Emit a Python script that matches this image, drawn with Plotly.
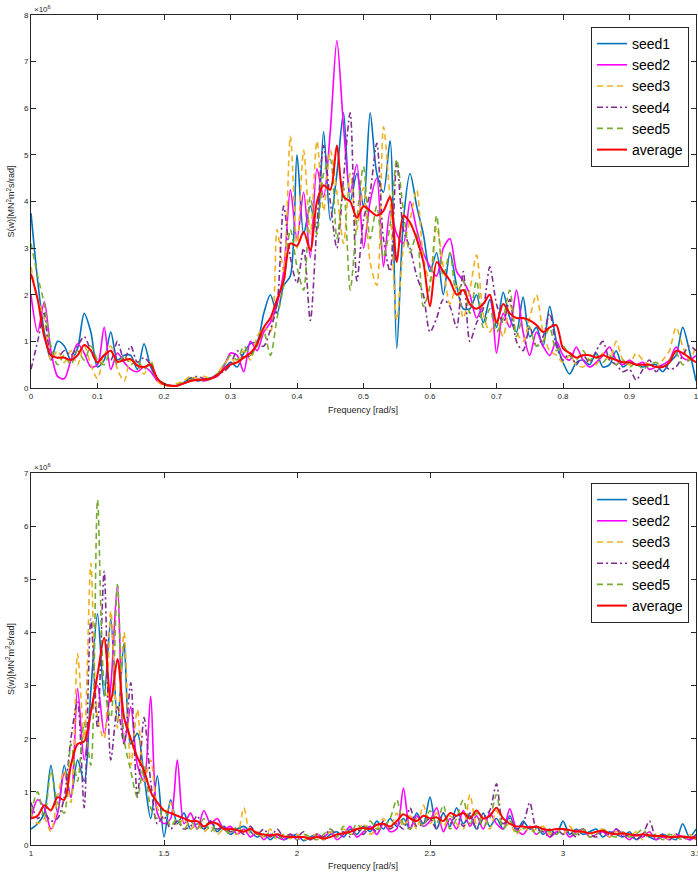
import plotly.graph_objects as go

# ---------------- Top panel (0 - 1 rad/s), values in 1e6 units ----------------
freq_top = [round(i * 0.01, 2) for i in range(101)]

top_seed1 = [3.75, 2.3, 1.2, 0.6, 1.0, 0.9, 0.6, 0.85, 1.6, 1.2,
             0.45, 0.6, 1.2, 0.6, 0.7, 0.7, 0.4, 0.95, 0.45, 0.2,
             0.08, 0.05, 0.06, 0.12, 0.22, 0.15, 0.18, 0.22, 0.25, 0.4,
             0.55, 0.45, 0.75, 0.95, 1.0, 1.6, 2.0, 1.6, 2.2, 2.4,
             5.0, 3.3, 3.9, 3.4, 5.5, 3.6, 4.6, 5.9, 4.0, 4.6,
             3.9, 5.9, 4.6, 4.2, 5.3, 0.85, 3.6, 4.6, 3.9, 3.3,
             2.5, 2.9, 2.0, 2.9, 2.2, 1.7, 1.7, 2.0, 1.4, 1.9,
             1.3, 2.05, 1.5, 1.2, 1.95, 1.1, 1.3, 0.9, 1.75, 1.0,
             0.55, 0.3, 0.55, 0.6, 0.5, 0.75, 0.45, 0.5, 0.8, 0.45,
             0.55, 0.5, 0.45, 0.5, 0.5, 0.35, 0.55, 0.7, 1.3, 0.8, 0.15]

top_seed2 = [2.0, 1.2, 1.85, 0.8, 0.25, 0.2, 0.6, 0.95, 0.75, 0.45,
             0.5, 1.3, 0.4, 0.75, 0.55, 0.4, 0.35, 0.45, 0.35, 0.15,
             0.08, 0.05, 0.05, 0.1, 0.15, 0.2, 0.15, 0.2, 0.25, 0.45,
             0.75, 0.7, 0.35, 1.0, 0.8, 1.2, 1.4, 1.8, 2.5, 4.25,
             3.2, 4.2, 2.8, 4.7, 4.1, 5.5, 7.45, 5.6, 4.2, 4.8,
             3.0, 4.0, 4.5, 2.6, 3.8, 3.3, 3.1, 4.0, 3.4, 2.9,
             2.6, 2.4, 3.0, 3.2, 2.5, 2.3, 2.0, 1.5, 1.8, 2.0,
             0.75, 1.6, 1.3, 2.1, 1.2, 0.7, 1.2, 0.9, 0.7, 1.0,
             0.7, 0.6, 0.88, 0.6, 0.45, 0.55, 0.7, 0.88, 0.6, 0.5,
             0.6, 0.5, 0.55, 0.4, 0.45, 0.5, 0.6, 0.88, 0.65, 0.6, 0.7]

top_seed3 = [2.6, 1.9, 1.5, 0.6, 0.8, 0.55, 0.8, 0.5, 0.9, 0.5,
             0.2, 0.7, 0.9, 0.4, 0.15, 0.6, 0.5, 0.3, 0.6, 0.15,
             0.05, 0.05, 0.1, 0.15, 0.25, 0.2, 0.25, 0.2, 0.3, 0.5,
             0.65, 0.5, 0.8, 0.6, 1.1, 1.3, 1.2, 3.4, 2.5, 5.4,
             3.0, 5.1, 3.3, 5.3, 3.8, 5.1, 4.2, 3.1, 4.6, 3.4,
             4.3, 2.7, 2.2, 5.6, 4.0, 1.45, 3.0, 3.6, 4.25, 2.8,
             2.3, 3.45, 2.6, 1.8, 2.2, 1.5, 2.1, 2.85, 1.6, 1.2,
             1.5, 1.1, 1.8, 1.2, 1.0, 1.5, 2.0, 1.2, 0.8, 0.7,
             0.55, 0.7, 0.5, 0.45, 0.6, 0.5, 0.75, 0.6, 1.0, 0.6,
             0.5, 0.75, 0.6, 0.5, 0.45, 0.6, 0.8, 1.3, 0.9, 0.6, 0.9]

top_seed4 = [0.4, 1.0, 1.6, 0.7, 0.65, 0.8, 0.7, 0.9, 1.1, 0.8,
             0.55, 0.7, 0.6, 1.0, 0.6, 0.9, 0.55, 0.65, 0.5, 0.2,
             0.1, 0.05, 0.05, 0.1, 0.2, 0.25, 0.2, 0.2, 0.3, 0.35,
             0.5, 0.8, 0.65, 0.7, 0.9, 0.9, 1.25, 1.8, 3.9, 2.8,
             2.25, 3.0, 1.45, 3.5, 5.2, 4.0, 3.0, 4.5, 5.9, 2.3,
             3.6, 4.2, 5.25, 3.2, 2.5, 4.85, 3.4, 3.0, 2.4, 2.0,
             1.2, 1.5, 1.9, 1.75, 1.3, 2.5, 1.0, 1.4, 1.7, 2.6,
             1.8, 1.4, 1.9, 1.0, 0.8, 1.3, 0.9, 1.1, 1.6, 0.9,
             0.6, 0.75, 0.5, 0.7, 0.55, 0.8, 1.0, 0.6, 0.5, 0.35,
             0.4, 0.17, 0.4, 0.6, 0.35, 0.5, 0.4, 0.45, 0.7, 0.9, 0.8]

top_seed5 = [3.1, 2.4, 1.8, 0.9, 0.5, 0.7, 0.5, 0.8, 0.6, 0.9,
             0.6, 0.5, 0.8, 0.5, 0.7, 0.5, 0.6, 0.4, 0.55, 0.2,
             0.1, 0.05, 0.08, 0.12, 0.18, 0.2, 0.15, 0.2, 0.3, 0.5,
             0.7, 0.6, 0.9, 0.7, 0.9, 1.2, 0.7, 1.5, 2.2, 3.4,
             2.6, 2.1, 4.1, 3.3, 4.6, 4.9, 3.2, 4.3, 2.1, 3.6,
             4.75, 3.2, 3.9, 2.8, 3.5, 4.9, 3.8, 2.9, 3.3, 1.75,
             2.2, 3.7, 2.4, 2.9, 2.0, 2.3, 1.6, 2.3, 1.3, 1.7,
             1.2, 1.5, 2.1, 1.1, 1.5, 1.3, 0.9, 1.0, 1.3, 0.8,
             0.9, 0.7, 0.6, 0.8, 0.6, 0.7, 0.55, 0.7, 0.5, 0.6,
             0.45, 0.55, 0.4, 0.5, 0.55, 0.45, 0.6, 0.75, 0.5, 0.6, 0.7]

top_average = [2.45, 1.9, 1.1, 0.7, 0.65, 0.65, 0.6, 0.7, 0.92, 0.8,
               0.55, 0.7, 0.8, 0.56, 0.6, 0.62, 0.48, 0.45, 0.5, 0.2,
               0.08, 0.05, 0.05, 0.1, 0.15, 0.17, 0.18, 0.2, 0.27, 0.4,
               0.5, 0.55, 0.65, 0.75, 0.95, 1.3, 1.5, 1.9, 2.3, 3.1,
               3.05, 3.35, 2.95, 4.0, 4.35, 4.25, 5.2, 4.1, 4.0, 3.65,
               3.9, 3.8, 3.7, 3.8, 4.1, 2.7, 3.7, 3.55, 3.2, 2.7,
               1.75, 2.7, 2.5, 2.3, 2.0, 2.1, 1.8, 1.7, 1.8, 2.0,
               1.4, 1.8, 1.6, 1.5, 1.5, 1.45, 1.35, 1.2, 1.3, 1.35,
               0.85, 0.75, 0.65, 0.7, 0.7, 0.65, 0.7, 0.65, 0.6, 0.55,
               0.55, 0.5, 0.5, 0.5, 0.45, 0.45, 0.55, 0.8, 0.75, 0.65, 0.55]

# ---------------- Bottom panel (1 - 3.5 rad/s), values in 1e6 units ----------------
freq_bot = [round(1 + i * 0.025, 3) for i in range(101)]

bot_seed1 = [0.3, 0.4, 0.6, 1.5, 0.6, 1.5, 0.9, 1.6, 1.2, 2.9,
             4.35, 2.8, 4.25, 2.3, 3.8, 1.9, 2.1, 1.3, 0.5, 1.3,
             0.15, 0.85, 0.4, 0.6, 0.3, 0.4, 0.3, 0.45, 0.25, 0.35,
             0.2, 0.3, 0.35, 0.25, 0.15, 0.2, 0.1, 0.2, 0.1, 0.15,
             0.2, 0.08, 0.15, 0.2, 0.1, 0.2, 0.25, 0.15, 0.3, 0.2,
             0.35, 0.25, 0.45, 0.3, 0.5, 0.35, 0.5, 0.3, 0.6, 0.4,
             0.9, 0.3, 0.6, 0.35, 0.7, 0.4, 0.55, 0.3, 0.6, 0.35,
             0.5, 0.3, 0.55, 0.25, 0.45, 0.3, 0.35, 0.2, 0.3, 0.2,
             0.45, 0.2, 0.3, 0.2, 0.25, 0.3, 0.15, 0.25, 0.2, 0.15,
             0.25, 0.1, 0.2, 0.15, 0.1, 0.2, 0.15, 0.1, 0.4, 0.15, 0.3]

bot_seed2 = [0.5, 0.85, 0.7, 0.3, 0.6, 1.35, 0.9, 2.95, 1.6, 2.5,
             3.0, 2.1, 3.0, 4.9, 1.9, 2.6, 1.5, 1.2, 2.8, 0.6,
             0.4, 0.5, 1.6, 0.4, 0.6, 0.3, 0.65, 0.4, 0.5, 0.3,
             0.35, 0.2, 0.3, 0.15, 0.25, 0.1, 0.2, 0.15, 0.1, 0.2,
             0.1, 0.15, 0.1, 0.2, 0.15, 0.25, 0.1, 0.2, 0.35, 0.15,
             0.25, 0.35, 0.2, 0.4, 0.25, 0.3, 1.07, 0.3, 0.55, 0.35,
             0.45, 0.7, 0.25, 0.5, 0.3, 0.65, 0.35, 0.55, 0.3, 0.6,
             0.4, 0.3, 0.68, 0.3, 0.2, 0.35, 0.2, 0.3, 0.15, 0.25,
             0.3, 0.15, 0.25, 0.3, 0.15, 0.2, 0.25, 0.15, 0.3, 0.2,
             0.1, 0.2, 0.15, 0.25, 0.1, 0.15, 0.1, 0.2, 0.15, 0.1, 0.15]

bot_seed3 = [0.6, 0.4, 0.5, 0.25, 0.9, 1.4, 0.8, 3.6, 2.0, 5.3,
             2.4, 2.0, 4.4, 2.2, 4.0, 1.5, 2.55, 1.2, 1.6, 0.7,
             0.5, 0.8, 0.35, 0.5, 0.3, 0.4, 0.25, 0.35, 0.2, 0.3,
             0.25, 0.2, 0.7, 0.2, 0.25, 0.15, 0.3, 0.1, 0.2, 0.12,
             0.2, 0.1, 0.15, 0.2, 0.1, 0.25, 0.15, 0.3, 0.2, 0.25,
             0.4, 0.2, 0.3, 0.5, 0.3, 0.6, 0.35, 0.55, 0.3, 0.75,
             0.4, 0.6, 0.35, 0.55, 0.4, 0.3, 0.95, 0.4, 0.55, 0.3,
             0.65, 0.35, 0.4, 0.2, 0.35, 0.25, 0.3, 0.35, 0.2, 0.3,
             0.2, 0.35, 0.2, 0.3, 0.2, 0.25, 0.3, 0.15, 0.25, 0.2,
             0.15, 0.25, 0.1, 0.2, 0.15, 0.2, 0.1, 0.2, 0.15, 0.2, 0.1]

bot_seed4 = [0.8, 0.5, 0.6, 0.45, 0.5, 0.9, 2.0, 2.7, 0.7, 4.25,
             2.2, 5.15, 1.6, 2.6, 1.9, 3.05, 0.9, 2.4, 1.2, 0.4,
             0.55, 0.3, 0.45, 0.3, 0.35, 0.55, 0.3, 0.45, 0.3, 0.35,
             0.25, 0.3, 0.2, 0.35, 0.2, 0.3, 0.15, 0.3, 0.15, 0.2,
             0.15, 0.25, 0.1, 0.2, 0.15, 0.3, 0.2, 0.25, 0.15, 0.3,
             0.2, 0.35, 0.25, 0.45, 0.3, 0.4, 0.3, 0.7, 0.35, 0.4,
             0.5, 0.3, 0.6, 0.4, 0.55, 0.35, 0.6, 0.3, 0.5, 0.65,
             1.15, 0.4, 0.5, 0.3, 0.4, 0.8, 0.3, 0.25, 0.15, 0.3,
             0.2, 0.25, 0.15, 0.3, 0.2, 0.15, 0.25, 0.2, 0.3, 0.15,
             0.2, 0.1, 0.2, 0.45, 0.15, 0.2, 0.1, 0.2, 0.15, 0.1, 0.2]

bot_seed5 = [0.6, 1.0, 0.5, 1.4, 0.8, 0.6, 1.9, 1.2, 2.3, 1.5,
             6.5, 3.0, 2.4, 4.9, 2.0, 1.4, 0.9, 1.5, 0.7, 0.5,
             0.7, 0.35, 0.5, 0.3, 0.45, 0.3, 0.5, 0.25, 0.4, 0.3,
             0.2, 0.35, 0.25, 0.3, 0.2, 0.15, 0.25, 0.1, 0.2, 0.15,
             0.1, 0.2, 0.15, 0.1, 0.2, 0.3, 0.15, 0.35, 0.2, 0.4,
             0.25, 0.45, 0.3, 0.35, 0.5, 0.85, 0.4, 0.3, 0.5, 0.35,
             0.65, 0.4, 0.75, 0.3, 0.5, 0.85, 0.4, 0.6, 0.35, 0.5,
             0.95, 0.3, 0.45, 0.25, 0.3, 0.35, 0.2, 0.3, 0.25, 0.2,
             0.3, 0.25, 0.2, 0.3, 0.15, 0.2, 0.3, 0.2, 0.15, 0.25,
             0.15, 0.2, 0.3, 0.15, 0.2, 0.1, 0.2, 0.15, 0.1, 0.15, 0.1]

bot_average = [0.5, 0.55, 0.75, 0.65, 0.9, 0.85, 1.5, 1.9, 1.95, 2.5,
               3.2, 3.9, 2.7, 3.5, 2.4, 2.0, 1.65, 1.4, 1.0, 0.8,
               0.65, 0.6, 0.55, 0.5, 0.45, 0.45, 0.35, 0.42, 0.4, 0.3,
               0.3, 0.28, 0.25, 0.3, 0.22, 0.2, 0.18, 0.2, 0.16, 0.15,
               0.15, 0.15, 0.12, 0.15, 0.12, 0.15, 0.2, 0.22, 0.25, 0.3,
               0.32, 0.3, 0.38, 0.4, 0.35, 0.45, 0.58, 0.5, 0.45, 0.55,
               0.5, 0.52, 0.45, 0.6, 0.55, 0.6, 0.5, 0.65, 0.5, 0.55,
               0.7, 0.5, 0.4, 0.35, 0.35, 0.33, 0.35, 0.3, 0.28, 0.3,
               0.3, 0.28, 0.26, 0.25, 0.22, 0.25, 0.27, 0.22, 0.2, 0.22,
               0.2, 0.18, 0.2, 0.18, 0.17, 0.17, 0.15, 0.15, 0.16, 0.14, 0.14]

names = ["seed1", "seed2", "seed3", "seed4", "seed5", "average"]
colors = ["#0072BD", "#FF00FF", "#EDB120", "#7E2F8E", "#77AC30", "#FF0000"]
dashes = ["solid", "solid", "6px,4px", "6px,3px,2px,3px", "6px,4px", "solid"]
widths = [1.6, 1.6, 1.6, 1.6, 1.6, 2.0]

top_series = [top_seed1, top_seed2, top_seed3, top_seed4, top_seed5, top_average]
bot_series = [bot_seed1, bot_seed2, bot_seed3, bot_seed4, bot_seed5, bot_average]

fig = go.Figure()
for n, c, d, w, ys in zip(names, colors, dashes, widths, top_series):
    fig.add_trace(go.Scatter(x=freq_top, y=ys, name=n, mode="lines",
                             line=dict(color=c, dash=d, width=w, shape="spline", smoothing=0.8),
                             xaxis="x", yaxis="y", legend="legend"))
for n, c, d, w, ys in zip(names, colors, dashes, widths, bot_series):
    fig.add_trace(go.Scatter(x=freq_bot, y=ys, name=n, mode="lines",
                             line=dict(color=c, dash=d, width=w, shape="spline", smoothing=0.8),
                             xaxis="x2", yaxis="y2", legend="legend2"))

axcol = "#262626"
tickfont = dict(family="Liberation Sans, Arial, sans-serif", size=8, color=axcol)
common = dict(showline=True, linecolor=axcol, linewidth=1, mirror="ticks",
              ticks="inside", ticklen=5, tickcolor=axcol, tickwidth=1,
              showgrid=False, zeroline=False, tickfont=tickfont,
              ticklabeloverflow="allow")

top_lo = (845 - 388) / 830
bot_hi = (845 - 473) / 830

legfont = dict(size=14, color="black", family="Liberation Sans, Arial, sans-serif")
fig.update_layout(
    width=698, height=874,
    margin=dict(l=31, r=2, t=15, b=29, autoexpand=False),
    plot_bgcolor="white", paper_bgcolor="white",
    font=dict(family="Liberation Sans, Arial, sans-serif", color=axcol),
    xaxis=dict(domain=[0, 1], range=[0, 1], tickvals=[round(i * 0.1, 1) for i in range(11)],
               ticktext=["0", "0.1", "0.2", "0.3", "0.4", "0.5", "0.6", "0.7", "0.8", "0.9", "1"],
               anchor="y", **common),
    yaxis=dict(domain=[top_lo, 1], range=[0, 8], tickvals=list(range(9)), anchor="x", **common),
    xaxis2=dict(domain=[0, 1], range=[1, 3.5], tickvals=[1, 1.5, 2, 2.5, 3, 3.5],
                ticktext=["1", "1.5", "2", "2.5", "3", "3.5"], anchor="y2", **common),
    yaxis2=dict(domain=[0, bot_hi], range=[0, 7], tickvals=list(range(8)), anchor="x2", **common),
    legend=dict(x=(689 - 31) / 665, xanchor="right", y=(845 - 27) / 830,
                yanchor="top", bgcolor="white", bordercolor=axcol, borderwidth=1,
                font=legfont, itemwidth=30, tracegroupgap=0),
    legend2=dict(x=(689 - 31) / 665, xanchor="right", y=(845 - 483) / 830,
                 yanchor="top", bgcolor="white", bordercolor=axcol, borderwidth=1,
                 font=legfont, itemwidth=30, tracegroupgap=0),
    showlegend=True,
)

ylab = "S(w)[MN<sup>2</sup>m<sup>2</sup>s/rad]"
annots = [
    dict(text=ylab, x=(10 - 31) / 665, y=(845 - 201.5) / 830, textangle=-90),
    dict(text=ylab, x=(10 - 31) / 665, y=(845 - 659) / 830, textangle=-90),
    dict(text="Frequency [rad/s]", x=(363 - 31) / 665, y=(845 - 410) / 830, textangle=0),
    dict(text="Frequency [rad/s]", x=(363 - 31) / 665, y=(845 - 866) / 830, textangle=0),
]
for a in annots:
    fig.add_annotation(xref="paper", yref="paper", x=a["x"], y=a["y"], text=a["text"],
                       textangle=a["textangle"], showarrow=False, xanchor="center", yanchor="middle",
                       font=dict(size=9, color=axcol, family="Liberation Sans, Arial, sans-serif"))
for ypx in (9, 467):
    fig.add_annotation(xref="paper", yref="paper", x=(32 - 31) / 665, y=(845 - ypx) / 830,
                       text="\u00d710<sup>6</sup>", showarrow=False, xanchor="left", yanchor="middle",
                       font=dict(size=8, color=axcol, family="Liberation Sans, Arial, sans-serif"))

fig.write_html("out.html")
